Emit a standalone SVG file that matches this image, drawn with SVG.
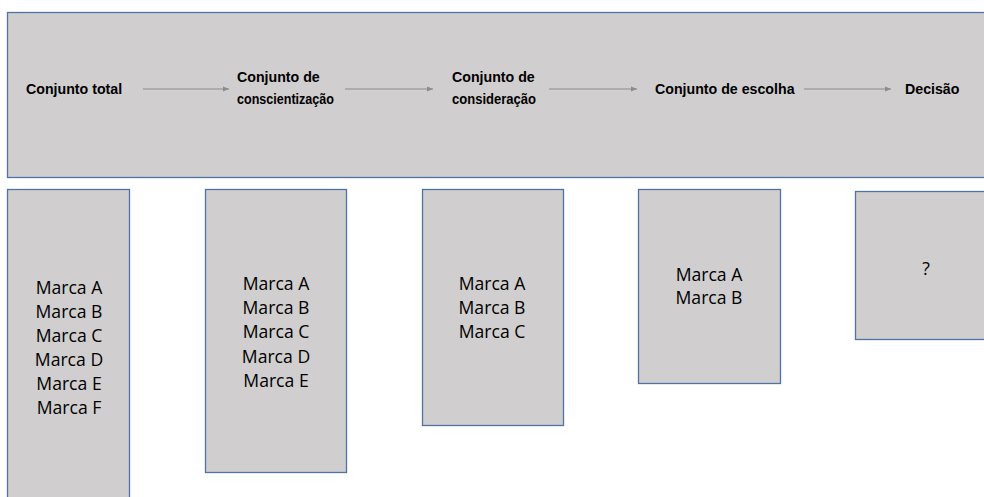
<svg xmlns="http://www.w3.org/2000/svg" width="984" height="497" viewBox="0 0 984 497">
<style>
.box{fill:#d0cece;stroke:#4f73a8;stroke-width:1.3}
.hd{font-family:"Liberation Sans",Arial,sans-serif;font-weight:bold;font-size:14.2px;fill:#000}
.mk{font-family:"Open Sans","Liberation Sans",sans-serif;font-size:17.6px;fill:#000;text-anchor:middle}
.con{stroke:#8c8c8c;stroke-width:1;fill:none;marker-end:url(#ah)}
</style>
<defs>
<marker id="ah" viewBox="0 0 10 10" refX="10" refY="5" markerWidth="6" markerHeight="6" orient="auto" markerUnits="userSpaceOnUse">
<path d="M0,1 L10,5 L0,9 z" fill="#8c8c8c"/>
</marker>
</defs>
<rect width="984" height="497" fill="#fff"/>
<g id="banner">
<rect class="box" x="7.5" y="12.5" width="990" height="165"/>
</g>
<g id="n-total"><text class="hd" x="26" y="94">Conjunto total</text></g>
<g id="n-consc"><text class="hd" x="237" y="82">Conjunto de</text><text class="hd" x="237" y="104" textLength="97" lengthAdjust="spacingAndGlyphs">conscientização</text></g>
<g id="n-consid"><text class="hd" x="452" y="82">Conjunto de</text><text class="hd" x="452" y="104" textLength="84" lengthAdjust="spacingAndGlyphs">consideração</text></g>
<g id="n-escolha"><text class="hd" x="655" y="94">Conjunto de escolha</text></g>
<g id="n-decisao"><text class="hd" x="905" y="94">Decisão</text></g>
<g id="connectors">
<line class="con" x1="143" y1="89" x2="229" y2="89"/>
<line class="con" x1="345" y1="89" x2="433" y2="89"/>
<line class="con" x1="549" y1="89" x2="637" y2="89"/>
<line class="con" x1="804" y1="89" x2="891" y2="89"/>
</g>
<g id="b-total">
<rect class="box" x="7.5" y="189.5" width="122" height="320"/>
<text class="mk" x="69" y="294">Marca A</text>
<text class="mk" x="69" y="318">Marca B</text>
<text class="mk" x="69" y="342">Marca C</text>
<text class="mk" x="69" y="366">Marca D</text>
<text class="mk" x="69" y="390">Marca E</text>
<text class="mk" x="69" y="414">Marca F</text>
</g>
<g id="b-consc">
<rect class="box" x="205.5" y="189.5" width="141" height="283"/>
<text class="mk" x="276" y="290">Marca A</text>
<text class="mk" x="276" y="314">Marca B</text>
<text class="mk" x="276" y="338">Marca C</text>
<text class="mk" x="276" y="363">Marca D</text>
<text class="mk" x="276" y="387">Marca E</text>
</g>
<g id="b-consid">
<rect class="box" x="422.5" y="189.5" width="141" height="236"/>
<text class="mk" x="492" y="290">Marca A</text>
<text class="mk" x="492" y="314">Marca B</text>
<text class="mk" x="492" y="338">Marca C</text>
</g>
<g id="b-escolha">
<rect class="box" x="638.5" y="189.5" width="142" height="194"/>
<text class="mk" x="709" y="281">Marca A</text>
<text class="mk" x="709" y="304">Marca B</text>
</g>
<g id="b-decisao">
<rect class="box" x="855.5" y="191.5" width="140" height="148"/>
<text class="mk" x="926" y="275">?</text>
</g>
</svg>
